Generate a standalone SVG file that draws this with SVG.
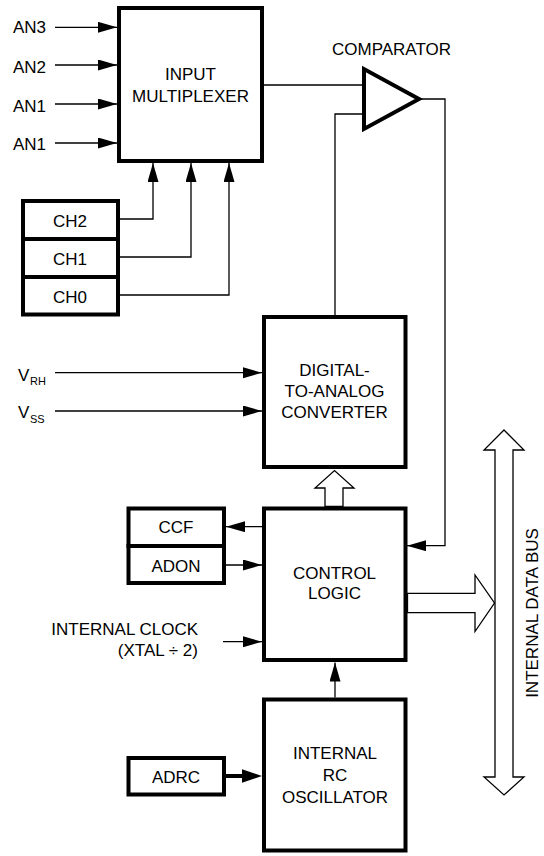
<svg xmlns="http://www.w3.org/2000/svg" width="544" height="856" viewBox="0 0 544 856">
<defs>
<style>
text{font-family:"Liberation Sans",Arial,sans-serif;font-size:17px;fill:#000}
.c{text-anchor:middle}
.e{text-anchor:end}
.sub{font-size:11px}
.box{fill:#fff;stroke:#000;stroke-width:4}
.ln{fill:none;stroke:#000;stroke-width:1.3}
.hollow{fill:#fff;stroke:#000;stroke-width:1.3;stroke-linejoin:miter}
</style>
<marker id="ah" markerUnits="userSpaceOnUse" markerWidth="20" markerHeight="12" refX="19" refY="5.5" orient="auto">
<path d="M0,0 L19,5.5 L0,11 z" fill="#000"/>
</marker>
</defs>
<rect width="544" height="856" fill="#fff"/>

<g id="connectors">
<path class="ln" d="M55,27.3 H117" marker-end="url(#ah)"/>
<path class="ln" d="M55,65 H117" marker-end="url(#ah)"/>
<path class="ln" d="M55,104 H117" marker-end="url(#ah)"/>
<path class="ln" d="M55,143 H117" marker-end="url(#ah)"/>
<path class="ln" d="M120,219 H153 V163" marker-end="url(#ah)"/>
<path class="ln" d="M120,257 H191 V163" marker-end="url(#ah)"/>
<path class="ln" d="M120,295 H229 V163" marker-end="url(#ah)"/>
<path class="ln" d="M264,85 H364"/>
<path class="ln" d="M364,114 H335 V315"/>
<path class="ln" d="M419,99 H445 V545.7 H407" marker-end="url(#ah)"/>
<path class="ln" d="M55,372.7 H262" marker-end="url(#ah)"/>
<path class="ln" d="M55,411 H262" marker-end="url(#ah)"/>
<path class="ln" d="M262,526.7 H226" marker-end="url(#ah)"/>
<path class="ln" d="M226,565 H262" marker-end="url(#ah)"/>
<path class="ln" d="M223,641.7 H262" marker-end="url(#ah)"/>
<path class="ln" d="M335,697.5 V662.5" marker-end="url(#ah)"/>
<path d="M226,776 H244" stroke="#000" stroke-width="4" fill="none"/>
<path d="M242,769.3 L262,776 L242,782.7 z" fill="#000"/>
<polygon class="hollow" points="325,506.5 325,488 315,488 334.5,470.5 354,488 343,488 343,506.5"/>
<polygon class="hollow" points="407.5,593.3 475,593.3 475,575 494.5,603 475,631.5 475,612.7 407.5,612.7"/>
</g>

<g id="bus">
<polygon class="hollow" points="504,430 524,450 513,450 513,777 524,777 504,795 484,777 495,777 495,450 484,450"/>
<text class="c" transform="translate(538,613) rotate(-90)">INTERNAL DATA BUS</text>
</g>

<g id="an-labels">
<text x="13" y="33.3">AN3</text>
<text x="13" y="72.5">AN2</text>
<text x="13" y="111.5">AN1</text>
<text x="13" y="150">AN1</text>
</g>

<g id="mux">
<rect class="box" x="119" y="8" width="143" height="153"/>
<text class="c" x="190.5" y="80">INPUT</text>
<text class="c" x="190.5" y="101.7">MULTIPLEXER</text>
</g>

<g id="ch-reg">
<rect class="box" x="23" y="201" width="95" height="38"/>
<rect class="box" x="23" y="239" width="95" height="38"/>
<rect class="box" x="23" y="277" width="95" height="37.5"/>
<text class="c" x="70" y="226.7">CH2</text>
<text class="c" x="70" y="265">CH1</text>
<text class="c" x="70" y="303.3">CH0</text>
</g>

<g id="comparator">
<polygon points="364,69 364,129 419,99" fill="#fff" stroke="#000" stroke-width="4"/>
<text class="c" x="391.5" y="55">COMPARATOR</text>
</g>

<g id="vref">
<text x="18" y="381">V<tspan class="sub" x="30" y="385">RH</tspan></text>
<text x="18" y="418.3">V<tspan class="sub" x="30" y="422.7">SS</tspan></text>
</g>

<g id="dac">
<rect class="box" x="264" y="317" width="141.5" height="150"/>
<text class="c" x="334.5" y="376">DIGITAL-</text>
<text class="c" x="334.5" y="397">TO-ANALOG</text>
<text class="c" x="334.5" y="418">CONVERTER</text>
</g>

<g id="ccf-adon">
<rect class="box" x="128.5" y="508.5" width="95.5" height="37.5"/>
<rect class="box" x="128.5" y="546" width="95.5" height="37"/>
<text class="c" x="176" y="533.3">CCF</text>
<text class="c" x="176" y="572.3">ADON</text>
</g>

<g id="control">
<rect class="box" x="264" y="508.5" width="141.5" height="151.5"/>
<text class="c" x="334.5" y="579">CONTROL</text>
<text class="c" x="334.5" y="599.3">LOGIC</text>
</g>

<g id="clock">
<text class="e" x="198" y="635">INTERNAL CLOCK</text>
<text class="e" x="198" y="655.5">(XTAL ÷ 2)</text>
</g>

<g id="adrc">
<rect class="box" x="128.5" y="758" width="95.5" height="36.5"/>
<text class="c" x="176" y="783">ADRC</text>
</g>

<g id="oscillator">
<rect class="box" x="264" y="699.5" width="141.5" height="151"/>
<text class="c" x="335" y="759.3">INTERNAL</text>
<text class="c" x="335" y="781">RC</text>
<text class="c" x="335" y="802.7">OSCILLATOR</text>
</g>
</svg>
